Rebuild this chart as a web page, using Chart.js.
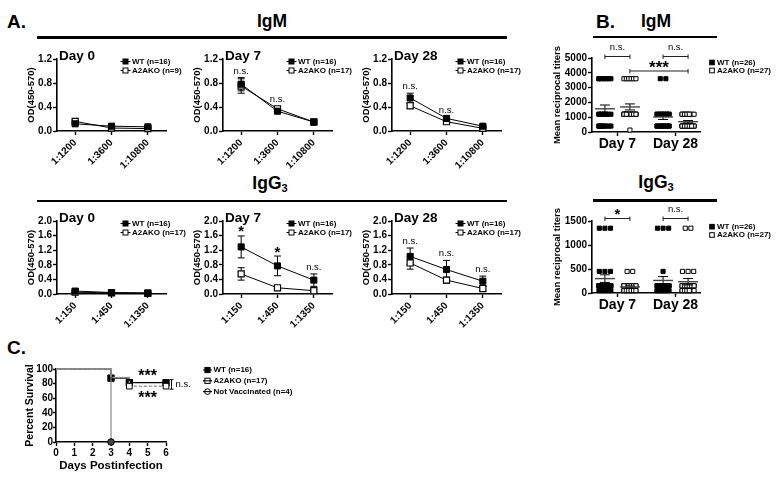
<!DOCTYPE html>
<html>
<head>
<meta charset="utf-8">
<script src="https://cdn.jsdelivr.net/npm/chart.js@4/dist/chart.umd.min.js"></script>
<style>
html,body{margin:0;padding:0;background:#fff;}
body{width:777px;height:478px;overflow:hidden;position:relative;font-family:'Liberation Sans',Arial,sans-serif;}
canvas{position:absolute;}
.t{position:absolute;font-weight:bold;color:#000;white-space:nowrap;line-height:1;}
.c{transform:translateX(-50%);}
.rule{position:absolute;height:2.5px;background:#000;}
.t sub{font-size:11px;vertical-align:-3px;line-height:0;}
</style>
</head>
<body>
<div class="t" style="left:7px;top:12px;font-size:19px">A.</div>
<div class="t" style="left:596px;top:12px;font-size:19px">B.</div>
<div class="t" style="left:7px;top:338px;font-size:19px">C.</div>
<div class="t c" style="left:272px;top:12.5px;font-size:17.5px">IgM</div>
<div class="t c" style="left:656px;top:12.5px;font-size:17.5px">IgM</div>
<div class="t c" style="left:270px;top:175px;font-size:17.5px">IgG<sub>3</sub></div>
<div class="t c" style="left:656px;top:174px;font-size:17.5px">IgG<sub>3</sub></div>
<div class="rule" style="left:37px;top:36px;width:470px"></div>
<div class="rule" style="left:593px;top:35.5px;width:124px"></div>
<div class="rule" style="left:37px;top:199.5px;width:470px"></div>
<div class="rule" style="left:593px;top:199px;width:124px"></div>

<canvas id="aM0"></canvas><canvas id="aM7"></canvas><canvas id="aM28"></canvas>
<canvas id="aG0"></canvas><canvas id="aG7"></canvas><canvas id="aG28"></canvas>
<canvas id="bM"></canvas><canvas id="bG"></canvas>
<canvas id="cS"></canvas>

<script>
// ================= DATA =================
// Panel A: ELISA OD(450-570) per serum dilution (mean and SEM)
const igmDilutions  = ['1:1200', '1:3600', '1:10800'];
const igg3Dilutions = ['1:150', '1:450', '1:1350'];

const igmDay0WT     = [0.12, 0.08, 0.07];
const igmDay0WTsem  = [0.02, 0.01, 0.01];
const igmDay0KO     = [0.16, 0.05, 0.04];
const igmDay0KOsem  = [0.02, 0.01, 0.01];
const igmDay7WT     = [0.78, 0.33, 0.15];
const igmDay7WTsem  = [0.11, 0.03, 0.02];
const igmDay7KO     = [0.75, 0.37, 0.15];
const igmDay7KOsem  = [0.12, 0.04, 0.02];
const igmDay28WT    = [0.55, 0.21, 0.08];
const igmDay28WTsem = [0.08, 0.03, 0.02];
const igmDay28KO    = [0.42, 0.155, 0.045];
const igmDay28KOsem = [0.04, 0.02, 0.01];

const igg3Day0WT     = [0.08, 0.04, 0.03];
const igg3Day0WTsem  = [0.02, 0.01, 0.01];
const igg3Day0KO     = [0.05, 0.03, 0.02];
const igg3Day0KOsem  = [0.01, 0.01, 0.01];
const igg3Day7WT     = [1.29, 0.77, 0.38];
const igg3Day7WTsem  = [0.30, 0.27, 0.17];
const igg3Day7KO     = [0.55, 0.17, 0.09];
const igg3Day7KOsem  = [0.17, 0.03, 0.03];
const igg3Day28WT    = [1.03, 0.67, 0.35];
const igg3Day28WTsem = [0.23, 0.25, 0.14];
const igg3Day28KO    = [0.85, 0.38, 0.15];
const igg3Day28KOsem = [0.17, 0.08, 0.06];

const igmDay0Sig   = ['', '', ''];
const igmDay7Sig   = ['n.s.', 'n.s.', ''];
const igmDay28Sig  = ['n.s.', 'n.s.', ''];
const igg3Day0Sig  = ['', '', ''];
const igg3Day7Sig  = ['*', '*', 'n.s.'];
const igg3Day28Sig = ['n.s.', 'n.s.', 'n.s.'];

const legendIgmDay0 = ['WT (n=16)', 'A2AKO (n=9)'];
const legendA       = ['WT (n=16)', 'A2AKO (n=17)'];

// Panel B: reciprocal titers of individual mice
const dayLabels = ['Day 7', 'Day 28'];
const igmTiterWTDay7  = [3600,3600,3600,3600,3600,3600,3600, 1200,1200,1200,1200,1200,1200,1200,1200,1200,1200, 400,400,400,400,400,400,400,400,400];
const igmTiterKODay7  = [3600,3600,3600,3600,3600,3600, 1200,1200,1200,1200,1200,1200,1200,1200,1200,1200,1200,1200,1200,1200,1200,1200,1200,1200,1200,1200, 130];
const igmTiterWTDay28 = [3600,3600, 1200,1200,1200,1200,1200,1200,1200,1200,1200,1200,1200,1200, 400,400,400,400,400,400,400,400,400,400,400,400];
const igmTiterKODay28 = [1200,1200,1200,1200,1200,1200,1200,1200,1200,1200, 400,400,400,400,400,400,400,400,400,400,400,400,400,400,400,400,400];
const igg3TiterWTDay7  = [1350,1350,1350, 450,450,450, 150,150,150,150,150,150,150,150,150,150,150,150,150,150, 50,50,50,50,50,50];
const igg3TiterKODay7  = [450,450, 150,150,150,150,150,150,150,150,150,150,150,150,150, 50,50,50,50,50,50,50,50,50,50,50,50];
const igg3TiterWTDay28 = [1350,1350,1350, 450, 150,150,150,150,150,150,150,150,150,150,150,150, 50,50,50,50,50,50,50,50,50,50];
const igg3TiterKODay28 = [1350,1350, 450,450,450, 150,150,150,150,150,150,150,150,150,150,150,150, 50,50,50,50,50,50,50,50,50,50];
const legendB = ['WT (n=26)', 'A2AKO (n=27)'];

// Panel C: survival (Kaplan-Meier)
const wtSurvDays = [0, 3, 4, 6];
const wtSurvPct  = [100, 87.5, 81.25, 81.25];
const koSurvDays = [0, 3, 4, 6];
const koSurvPct  = [100, 88.2, 76.5, 76.5];
const nvSurvDays = [0, 3];
const nvSurvPct  = [100, 0];
const legendC = ['WT (n=16)', 'A2AKO (n=17)', 'Not Vaccinated (n=4)'];

// ================= RENDER =================
const FONT = "'Liberation Sans', Arial, sans-serif";
Chart.defaults.font.family = FONT;
Chart.defaults.color = '#000';
Chart.defaults.animation = false;

const tickFont = {family: FONT, size: 10, weight: 'bold'};

function placeCanvas(id, box, pad) {
  const c = document.getElementById(id);
  const w = (box.r - box.l) + pad.l + pad.r;
  const h = (box.b - box.t) + pad.t + pad.b;
  c.width = w; c.height = h;
  c.style.left = (box.l - pad.l) + 'px';
  c.style.top = (box.t - pad.t) + 'px';
  c.style.width = w + 'px'; c.style.height = h + 'px';
  return c;
}

function gridOpts(tl) {
  return {display: true, drawOnChartArea: false, drawTicks: true, tickLength: tl || 4, tickWidth: 1.4, tickColor: '#000', color: '#000'};
}
function borderOpts() { return {display: true, color: '#000', width: 1.6}; }

function drawCentered(ctx, text, x, cy, font, align) {
  ctx.font = font;
  ctx.textAlign = align || 'center';
  ctx.textBaseline = 'alphabetic';
  const m = ctx.measureText(text);
  ctx.fillStyle = '#000';
  ctx.fillText(text, x, cy + (m.actualBoundingBoxAscent - m.actualBoundingBoxDescent) / 2);
}

function lineDeco(spec) {
  return {
    id: 'lineDeco',
    beforeDatasetsDraw(chart) {
      const {ctx, scales: {y}} = chart;
      ctx.save();
      ctx.strokeStyle = '#000'; ctx.lineWidth = 1;
      chart.data.datasets.forEach((ds, di) => {
        chart.getDatasetMeta(di).data.forEach((pt, i) => {
          const t = y.getPixelForValue(ds.data[i] + ds.sem[i]);
          const b = y.getPixelForValue(Math.max(0, ds.data[i] - ds.sem[i]));
          ctx.beginPath();
          ctx.moveTo(pt.x, t); ctx.lineTo(pt.x, b);
          ctx.moveTo(pt.x - 3.5, t); ctx.lineTo(pt.x + 3.5, t);
          ctx.moveTo(pt.x - 3.5, b); ctx.lineTo(pt.x + 3.5, b);
          ctx.stroke();
        });
      });
      ctx.restore();
    },
    afterDraw(chart) {
      const {ctx, chartArea: a, scales: {y}} = chart;
      ctx.save();
      ctx.fillStyle = '#000';
      ctx.font = `bold 13.5px ${FONT}`;
      ctx.textAlign = 'left'; ctx.textBaseline = 'alphabetic';
      ctx.fillText(spec.title, a.left + 2, a.top + 1);
      spec.legend.forEach((txt, k) => {
        const cy = a.top + 2.5 + k * 9;
        const cx = a.left + 68.5;
        ctx.strokeStyle = '#000'; ctx.lineWidth = 1;
        ctx.beginPath(); ctx.moveTo(cx - 5, cy); ctx.lineTo(cx + 5, cy); ctx.stroke();
        ctx.fillStyle = k === 0 ? '#000' : '#fff';
        ctx.fillRect(cx - 2.5, cy - 2.5, 5, 5);
        ctx.strokeRect(cx - 2.5, cy - 2.5, 5, 5);
        ctx.fillStyle = '#000';
        ctx.font = `bold 8px ${FONT}`;
        ctx.textAlign = 'left'; ctx.textBaseline = 'middle';
        ctx.fillText(txt, a.left + 75, cy);
      });
      const meta0 = chart.getDatasetMeta(0);
      spec.sig.forEach((s, i) => {
        if (!s) return;
        const top = Math.max(...chart.data.datasets.map(ds => ds.data[i] + ds.sem[i]));
        const cy = y.getPixelForValue(top) - 6.5;
        drawCentered(ctx, s, meta0.data[i].x, cy, s === 'n.s.' ? `9.5px ${FONT}` : `bold 15px ${FONT}`);
      });
      ctx.restore();
    }
  };
}

function makeLineChart(id, box, labels, yMax, wt, wtSem, ko, koSem, sig, title, legend) {
  const pad = {l: 55, r: 32, t: 16, b: 45};
  const canvas = placeCanvas(id, box, pad);
  new Chart(canvas, {
    type: 'line',
    data: {
      labels: labels,
      datasets: [
        {label: 'WT', data: wt, sem: wtSem, borderColor: '#000', borderWidth: 1, tension: 0,
         pointStyle: 'rect', pointRadius: 4.3, pointBackgroundColor: '#000', pointBorderColor: '#000', pointBorderWidth: 1, clip: false},
        {label: 'A2AKO', data: ko, sem: koSem, borderColor: '#000', borderWidth: 1, tension: 0,
         pointStyle: 'rect', pointRadius: 4.3, pointBackgroundColor: '#fff', pointBorderColor: '#000', pointBorderWidth: 1.2, clip: false}
      ]
    },
    options: {
      responsive: false, animation: false,
      layout: {padding: {left: 0, top: pad.t, right: pad.r, bottom: 0}},
      plugins: {legend: {display: false}, tooltip: {enabled: false}, title: {display: false}},
      scales: {
        x: {
          type: 'category', offset: true,
          grid: gridOpts(), border: borderOpts(),
          ticks: {color: '#000', font: tickFont, minRotation: 45, maxRotation: 45, autoSkip: false, padding: 2},
          afterFit: s => { s.height = pad.b; }
        },
        y: {
          min: 0, max: yMax,
          grid: gridOpts(), border: borderOpts(),
          ticks: {color: '#000', font: tickFont, stepSize: 0.4, padding: 1, autoSkip: false, callback: v => Number(v).toFixed(1)},
          title: {display: true, text: 'OD(450-570)', color: '#000', font: {family: FONT, size: 9.5, weight: 'bold'}, padding: {top: pad.l - 26 - 5.7, bottom: 0}},
          afterFit: s => { s.width = pad.l; }
        }
      }
    },
    plugins: [lineDeco({title: title, legend: legend, sig: sig})]
  });
}

const rowIgm = {t: 59, b: 131};
const rowIgg = {t: 221, b: 294};
const colL = [57, 223, 392];
const colW = 109;
function boxOf(row, c) { return {l: colL[c], r: colL[c] + colW, t: row.t, b: row.b}; }

makeLineChart('aM0',  boxOf(rowIgm, 0), igmDilutions, 1.2, igmDay0WT, igmDay0WTsem, igmDay0KO, igmDay0KOsem, igmDay0Sig, 'Day 0', legendIgmDay0);
makeLineChart('aM7',  boxOf(rowIgm, 1), igmDilutions, 1.2, igmDay7WT, igmDay7WTsem, igmDay7KO, igmDay7KOsem, igmDay7Sig, 'Day 7', legendA);
makeLineChart('aM28', boxOf(rowIgm, 2), igmDilutions, 1.2, igmDay28WT, igmDay28WTsem, igmDay28KO, igmDay28KOsem, igmDay28Sig, 'Day 28', legendA);
makeLineChart('aG0',  boxOf(rowIgg, 0), igg3Dilutions, 2.0, igg3Day0WT, igg3Day0WTsem, igg3Day0KO, igg3Day0KOsem, igg3Day0Sig, 'Day 0', legendA);
makeLineChart('aG7',  boxOf(rowIgg, 1), igg3Dilutions, 2.0, igg3Day7WT, igg3Day7WTsem, igg3Day7KO, igg3Day7KOsem, igg3Day7Sig, 'Day 7', legendA);
makeLineChart('aG28', boxOf(rowIgg, 2), igg3Dilutions, 2.0, igg3Day28WT, igg3Day28WTsem, igg3Day28KO, igg3Day28KOsem, igg3Day28Sig, 'Day 28', legendA);

// ---- Panel B ----
const B_XMIN = 0.563, B_XMAX = 2.42, B_OFF = 0.215;

function swarm(values, center, unitsPerPx) {
  const sizePx = 4, gapPx = 1.6, maxWidthPx = 16, maxSlots = 6;
  const counts = {}; values.forEach(v => { counts[v] = (counts[v] || 0) + 1; });
  const seen = {};
  return values.map(v => {
    const c = counts[v];
    seen[v] = (seen[v] === undefined) ? 0 : seen[v] + 1;
    const slots = Math.min(c, maxSlots);
    const k = seen[v] % slots;
    const step = slots > 1 ? Math.min(sizePx + gapPx, (maxWidthPx - sizePx) / (slots - 1)) : 0;
    const off = (k - (slots - 1) / 2) * step;
    return {x: center + off * unitsPerPx, y: v};
  });
}

function dotDeco(spec) {
  return {
    id: 'dotDeco',
    afterDatasetsDraw(chart) {
      const {ctx, chartArea: a, scales: {x, y}} = chart;
      ctx.save();
      chart.data.datasets.forEach(ds => {
        const vals = ds.raw, n = vals.length;
        const m = vals.reduce((s, v) => s + v, 0) / n;
        const sd = Math.sqrt(vals.reduce((s, v) => s + (v - m) * (v - m), 0) / (n - 1));
        const se = sd / Math.sqrt(n);
        const px = x.getPixelForValue(ds.center);
        const pm = y.getPixelForValue(m), pt = y.getPixelForValue(m + se), pb = y.getPixelForValue(m - se);
        ctx.strokeStyle = '#000'; ctx.lineWidth = 1;
        ctx.beginPath();
        ctx.moveTo(px, pt); ctx.lineTo(px, pb);
        ctx.moveTo(px - 5, pt); ctx.lineTo(px + 5, pt);
        ctx.moveTo(px - 5, pb); ctx.lineTo(px + 5, pb);
        ctx.stroke();
        ctx.strokeStyle = '#444'; ctx.lineWidth = 1.4;
        ctx.beginPath(); ctx.moveTo(px - 10, pm); ctx.lineTo(px + 10, pm); ctx.stroke();
      });
      const dss = chart.data.datasets;
      spec.brackets.forEach(br => {
        const x1 = x.getPixelForValue(dss[br.from].center), x2 = x.getPixelForValue(dss[br.to].center);
        const by = a.top + br.dy;
        ctx.strokeStyle = '#222'; ctx.lineWidth = 1;
        ctx.beginPath();
        ctx.moveTo(x1, by); ctx.lineTo(x2, by);
        ctx.moveTo(x1, by - 2); ctx.lineTo(x1, by + 2.5);
        ctx.moveTo(x2, by - 2); ctx.lineTo(x2, by + 2.5);
        ctx.stroke();
        const isNs = br.text === 'n.s.';
        drawCentered(ctx, br.text, (x1 + x2) / 2, by - (isNs ? 9 : 7), isNs ? `9.5px ${FONT}` : `bold ${br.size}px ${FONT}`);
      });
      spec.legend.forEach((txt, k) => {
        const cy = a.top + spec.legendDy[k];
        const cx = a.left + 120;
        ctx.fillStyle = k === 0 ? '#000' : '#fff';
        ctx.strokeStyle = '#000'; ctx.lineWidth = 1;
        ctx.fillRect(cx - 2.3, cy - 2.3, 4.6, 4.6);
        ctx.strokeRect(cx - 2.3, cy - 2.3, 4.6, 4.6);
        ctx.fillStyle = '#000';
        ctx.font = `bold 8px ${FONT}`;
        ctx.textAlign = 'left'; ctx.textBaseline = 'middle';
        ctx.fillText(txt, a.left + 125, cy);
      });
      ctx.restore();
    }
  };
}

function makeDotChart(id, box, yMax, yStep, groups, brackets, legendDy) {
  const pad = {l: 60, r: 77, t: 26, b: 26};
  const canvas = placeCanvas(id, box, pad);
  const unitsPerPx = (B_XMAX - B_XMIN) / (box.r - box.l);
  const centers = [1 - B_OFF, 1 + B_OFF, 2 - B_OFF, 2 + B_OFF];
  const datasets = groups.map((vals, i) => {
    const isWT = i % 2 === 0;
    return {
      data: swarm(vals, centers[i], unitsPerPx), raw: vals, center: centers[i],
      showLine: false, pointStyle: 'rect', pointRadius: 2.9, pointBorderWidth: 1,
      pointBackgroundColor: isWT ? '#000' : '#fff', pointBorderColor: '#000', clip: false
    };
  });
  new Chart(canvas, {
    type: 'scatter',
    data: {datasets: datasets},
    options: {
      responsive: false, animation: false,
      layout: {padding: {left: 0, top: pad.t, right: pad.r, bottom: 0}},
      plugins: {legend: {display: false}, tooltip: {enabled: false}},
      scales: {
        x: {
          type: 'linear', min: B_XMIN, max: B_XMAX,
          grid: gridOpts(), border: borderOpts(),
          afterBuildTicks: s => { s.ticks = dayLabels.map((_, i) => ({value: i + 1})); },
          ticks: {color: '#000', font: {family: FONT, size: 14, weight: 'bold'}, padding: 0, maxRotation: 0, autoSkip: false,
                  callback: v => dayLabels[Math.round(v) - 1]},
          afterFit: s => { s.height = pad.b; }
        },
        y: {
          min: 0, max: yMax,
          grid: gridOpts(), border: borderOpts(),
          ticks: {color: '#000', font: tickFont, stepSize: yStep, padding: 1, autoSkip: false, callback: v => String(v)},
          title: {display: true, text: 'Mean reciprocal titers', color: '#000', font: {family: FONT, size: 9.5, weight: 'bold'}, padding: {top: 20, bottom: 0}},
          afterFit: s => { s.width = pad.l; }
        }
      }
    },
    plugins: [dotDeco({brackets: brackets, legend: legendB, legendDy: legendDy})]
  });
}

makeDotChart('bM', {l: 592, r: 700, t: 58, b: 132}, 5000, 1000,
  [igmTiterWTDay7, igmTiterKODay7, igmTiterWTDay28, igmTiterKODay28],
  [{from: 0, to: 1, dy: -1.5, text: 'n.s.'}, {from: 2, to: 3, dy: -1.5, text: 'n.s.'}, {from: 1, to: 3, dy: 13, text: '***', size: 17}],
  [4.5, 12.5]);
makeDotChart('bG', {l: 592, r: 700, t: 221, b: 293}, 1500, 500,
  [igg3TiterWTDay7, igg3TiterKODay7, igg3TiterWTDay28, igg3TiterKODay28],
  [{from: 0, to: 1, dy: -2.5, text: '*', size: 15}, {from: 2, to: 3, dy: -2.5, text: 'n.s.'}],
  [5.7, 14]);

// ---- Panel C ----
function survDeco() {
  return {
    id: 'survDeco',
    afterDraw(chart) {
      const {ctx, chartArea: a, scales: {x, y}} = chart;
      ctx.save();
      const markers = ['rectFill', 'rectOpen', 'circle'];
      legendC.forEach((txt, k) => {
        const cy = a.top + 1 + k * 10.8;
        const cx = a.left + 151.5;
        ctx.strokeStyle = '#000'; ctx.lineWidth = 1;
        ctx.beginPath(); ctx.moveTo(cx - 4.5, cy); ctx.lineTo(cx + 4.5, cy); ctx.stroke();
        if (markers[k] === 'circle') {
          ctx.fillStyle = '#fff';
          ctx.beginPath(); ctx.arc(cx, cy, 2.8, 0, Math.PI * 2); ctx.fill(); ctx.stroke();
          ctx.beginPath(); ctx.moveTo(cx - 4.5, cy); ctx.lineTo(cx + 4.5, cy); ctx.stroke();
        } else {
          ctx.fillStyle = markers[k] === 'rectFill' ? '#000' : '#fff';
          ctx.fillRect(cx - 2.6, cy - 2.6, 5.2, 5.2);
          ctx.strokeRect(cx - 2.6, cy - 2.6, 5.2, 5.2);
          if (markers[k] === 'rectOpen') { ctx.beginPath(); ctx.moveTo(cx - 4.5, cy); ctx.lineTo(cx + 4.5, cy); ctx.stroke(); }
        }
        ctx.fillStyle = '#000';
        ctx.font = `bold 8px ${FONT}`;
        ctx.textAlign = 'left'; ctx.textBaseline = 'middle';
        ctx.fillText(txt, a.left + 157.5, cy);
      });
      const yw = y.getPixelForValue(wtSurvPct[wtSurvPct.length - 1]);
      const yk = y.getPixelForValue(koSurvPct[koSurvPct.length - 1]);
      const xm = x.getPixelForValue(5);
      drawCentered(ctx, '***', xm, yw - 10, `bold 16px ${FONT}`);
      drawCentered(ctx, '***', xm, yk + 8.7, `bold 16px ${FONT}`);
      const bx = x.getPixelForValue(6) + 5.5;
      ctx.strokeStyle = '#000'; ctx.lineWidth = 1;
      ctx.beginPath();
      ctx.moveTo(bx, yw - 3); ctx.lineTo(bx, yk + 3);
      ctx.moveTo(bx - 2, yw - 3); ctx.lineTo(bx + 2, yw - 3);
      ctx.moveTo(bx - 2, yk + 3); ctx.lineTo(bx + 2, yk + 3);
      ctx.stroke();
      drawCentered(ctx, 'n.s.', bx + 4, (yw + yk) / 2, `9.5px ${FONT}`, 'left');
      ctx.restore();
    }
  };
}

(function () {
  const box = {l: 56, r: 166, t: 369, b: 442};
  const pad = {l: 56, r: 130, t: 12, b: 34};
  const canvas = placeCanvas('cS', box, pad);
  const toXY = (days, pct) => days.map((d, i) => ({x: d, y: pct[i]}));
  new Chart(canvas, {
    type: 'line',
    data: {
      datasets: [
        {label: 'Not Vaccinated', data: toXY(nvSurvDays, nvSurvPct), stepped: true, borderColor: '#888', borderWidth: 1.2,
         pointStyle: 'circle', pointRadius: [0, 3.3], pointBackgroundColor: '#444', pointBorderColor: '#000', pointBorderWidth: 1, clip: false},
        {label: 'A2AKO', data: toXY(koSurvDays, koSurvPct), stepped: true, borderColor: '#999', borderWidth: 1.5, borderDash: [3, 2],
         pointStyle: 'rect', pointRadius: [0, 0, 4, 4], pointBackgroundColor: '#fff', pointBorderColor: '#000', pointBorderWidth: 1, clip: false},
        {label: 'WT', data: toXY(wtSurvDays, wtSurvPct), stepped: true, borderColor: '#000', borderWidth: 1.2,
         pointStyle: 'rect', pointRadius: [0, 4.5, 4.5, 4.5], pointBackgroundColor: '#000', pointBorderColor: '#000', pointBorderWidth: 1, clip: false}
      ]
    },
    options: {
      responsive: false, animation: false,
      layout: {padding: {left: 0, top: pad.t, right: pad.r, bottom: 0}},
      plugins: {legend: {display: false}, tooltip: {enabled: false}},
      scales: {
        x: {
          type: 'linear', min: 0, max: 6,
          grid: gridOpts(), border: borderOpts(),
          ticks: {color: '#000', font: tickFont, stepSize: 1, padding: 1, autoSkip: false},
          title: {display: true, text: 'Days Postinfection', color: '#000', font: {family: FONT, size: 11.5, weight: 'bold'}, padding: {top: 0, bottom: 3}},
          afterFit: s => { s.height = pad.b; }
        },
        y: {
          min: 0, max: 100,
          grid: gridOpts(3), border: borderOpts(),
          ticks: {color: '#000', font: tickFont, stepSize: 20, padding: 0, autoSkip: false},
          title: {display: true, text: 'Percent Survival', color: '#000', font: {family: FONT, size: 10.5, weight: 'bold'}, padding: {top: 24, bottom: 0}},
          afterFit: s => { s.width = pad.l; }
        }
      }
    },
    plugins: [survDeco()]
  });
})();
</script>
</body>
</html>
